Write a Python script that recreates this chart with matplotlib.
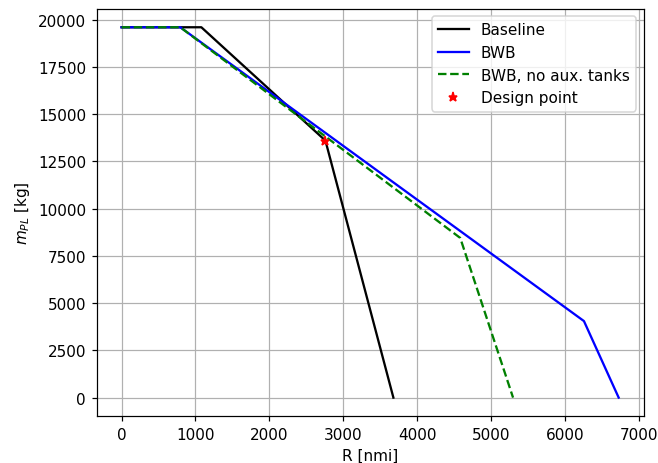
import matplotlib
matplotlib.use("Agg")
import matplotlib.pyplot as plt

# payload-range data
baseline_R = [0, 1080, 2760, 3680]
baseline_m = [19600, 19600, 13600, 0]

bwb_R = [0, 795, 6260, 6730]
bwb_m = [19600, 19600, 4050, 0]

bwb_noaux_R = [0, 795, 4585, 5300]
bwb_noaux_m = [19600, 19600, 8450, 0]

design_R = [2755]
design_m = [13600]

# slightly higher dpi so text and lines come out at the reference's scale
fig, ax = plt.subplots(figsize=(658 / 110, 464 / 110), dpi=110)
ax.plot(baseline_R, baseline_m, color="black", label="Baseline")
ax.plot(bwb_R, bwb_m, color="blue", label="BWB")
ax.plot(bwb_noaux_R, bwb_noaux_m, color="green", linestyle="--", label="BWB, no aux. tanks")
ax.plot(design_R, design_m, "r*", label="Design point")

ax.set_xlabel("R [nmi]")
ax.set_ylabel("$m_{PL}$ [kg]")
ax.grid(True)
ax.legend(loc="upper right")

fig.subplots_adjust(left=0.147, right=0.978, top=0.979, bottom=0.101)
fig.savefig("out.png")
